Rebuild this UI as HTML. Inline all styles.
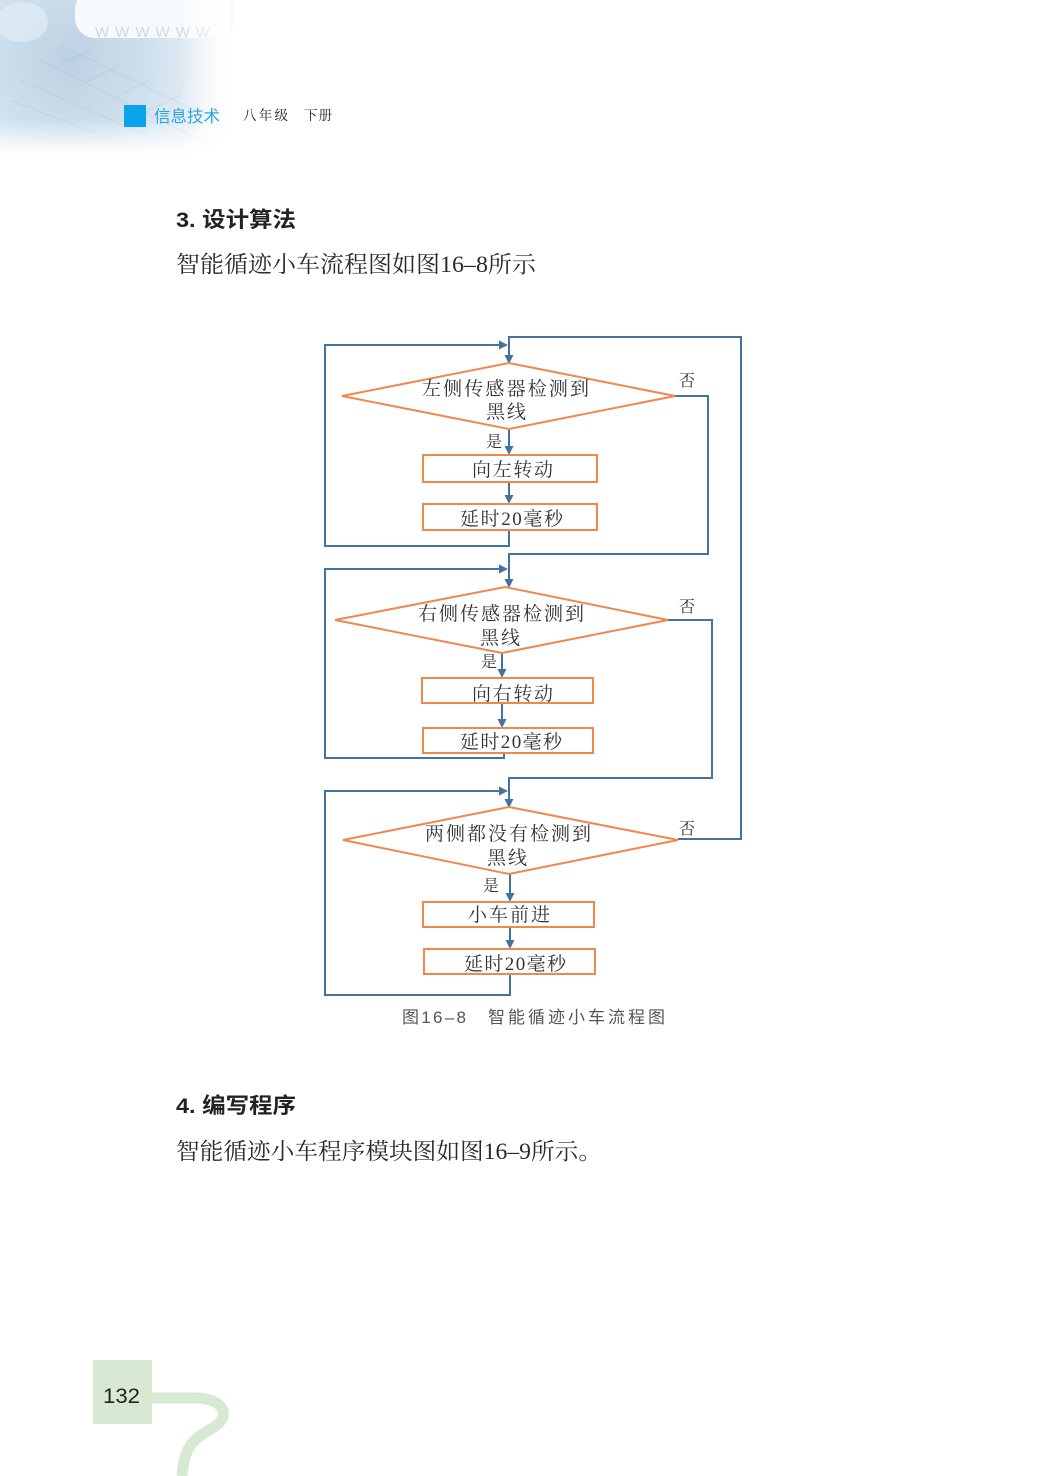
<!DOCTYPE html>
<html><head><meta charset="utf-8"><style>
html,body{margin:0;padding:0;background:#fff;}
svg{display:block;}
</style></head><body>
<svg width="1047" height="1476" viewBox="0 0 1047 1476" xmlns="http://www.w3.org/2000/svg">
<defs>
<radialGradient id="hg" cx="70" cy="60" r="190" gradientUnits="userSpaceOnUse">
<stop offset="0" stop-color="#bcd1e3"/>
<stop offset="0.45" stop-color="#d0e1ee"/>
<stop offset="0.8" stop-color="#eef4f9"/>
<stop offset="1" stop-color="#ffffff"/>
</radialGradient>
<linearGradient id="fadeR" x1="0" y1="0" x2="1" y2="0">
<stop offset="0" stop-color="#fff" stop-opacity="0"/>
<stop offset="1" stop-color="#fff" stop-opacity="1"/>
</linearGradient>
<linearGradient id="fadeB" x1="0" y1="0" x2="0" y2="1">
<stop offset="0" stop-color="#fff" stop-opacity="0"/>
<stop offset="1" stop-color="#fff" stop-opacity="1"/>
</linearGradient>
</defs>

<!-- header background -->
<rect x="0" y="0" width="230" height="155" fill="url(#hg)"/>
<g opacity="0.18" stroke="#8aa9c8" stroke-width="1" fill="none">
<path d="M40 60 L200 140 M20 80 L180 150 M60 45 L215 120 M10 100 L150 155"/>
<path d="M50 70 L90 50 M80 85 L120 65 M110 100 L150 80 M140 115 L180 95"/>
</g>
<ellipse cx="22" cy="22" rx="26" ry="20" fill="#e2ecf5" opacity="0.7"/>
<rect x="75" y="-10" width="160" height="48" rx="20" fill="#f7fafd"/>
<text x="95" y="37" font-family="Liberation Sans, sans-serif" font-size="15" fill="#cfd8e1" textLength="115" lengthAdjust="spacing">WWWWWW</text>
<rect x="180" y="0" width="50" height="155" fill="url(#fadeR)"/>
<rect x="0" y="120" width="230" height="35" fill="url(#fadeB)"/>

<rect x="124" y="105" width="22" height="22" fill="#0aa3ea"/>
<text x="154" y="122" font-family="Liberation Sans, Noto Sans CJK SC, sans-serif" font-size="16.5" fill="#2aa5e0" textLength="66" lengthAdjust="spacing">信息技术</text>
<text x="243" y="120" font-family="Liberation Serif, Noto Serif CJK SC, serif" font-size="13.5" fill="#222" textLength="45" lengthAdjust="spacing">八年级</text>
<text x="304" y="120" font-family="Liberation Serif, Noto Serif CJK SC, serif" font-size="13.5" fill="#222" textLength="28" lengthAdjust="spacing">下册</text>

<!-- headings -->
<text x="176" y="227" font-family="Liberation Sans, Noto Sans CJK SC, sans-serif" font-size="21.5" font-weight="bold" fill="#222" textLength="120" lengthAdjust="spacingAndGlyphs">3. 设计算法</text>
<text x="176" y="272" font-family="Liberation Serif, Noto Serif CJK SC, serif" font-size="23" fill="#2a2a2a" textLength="360" lengthAdjust="spacingAndGlyphs">智能循迹小车流程图如图16–8所示</text>

<text x="176" y="1113" font-family="Liberation Sans, Noto Sans CJK SC, sans-serif" font-size="21.5" font-weight="bold" fill="#222" textLength="120" lengthAdjust="spacingAndGlyphs">4. 编写程序</text>
<text x="176" y="1159" font-family="Liberation Serif, Noto Serif CJK SC, serif" font-size="23" fill="#2a2a2a" textLength="426" lengthAdjust="spacingAndGlyphs">智能循迹小车程序模块图如图16–9所示。</text>

<!-- flowchart connectors -->
<g stroke="#43739f" stroke-width="2" fill="none" stroke-linejoin="miter">
<polyline points="678,839 741,839 741,337 509,337 509,356"/>
<polyline points="509,530 509,546 325,546 325,345 500,345"/>
<polyline points="675,396 708,396 708,554 509,554 509,580"/>
<line x1="509" y1="429" x2="509" y2="447"/>
<line x1="509" y1="482" x2="509" y2="496"/>
<polyline points="504,753 504,758 325,758 325,569 500,569"/>
<polyline points="668,620 712,620 712,778 509,778 509,800"/>
<line x1="502" y1="653" x2="502" y2="670"/>
<line x1="502" y1="703" x2="502" y2="720"/>
<polyline points="510,974 510,995 325,995 325,791 500,791"/>
<line x1="510" y1="874" x2="510" y2="894"/>
<line x1="510" y1="927" x2="510" y2="941"/>
</g>
<g fill="#43739f">
<polygon points="504.5,355 513.5,355 509,364"/>
<polygon points="499,340.5 499,349.5 508,345"/>
<polygon points="504.5,446 513.5,446 509,455"/>
<polygon points="504.5,495 513.5,495 509,504"/>
<polygon points="504.5,579 513.5,579 509,588"/>
<polygon points="499,564.5 499,573.5 508,569"/>
<polygon points="497.5,669 506.5,669 502,678"/>
<polygon points="497.5,719 506.5,719 502,728"/>
<polygon points="504.5,799 513.5,799 509,808"/>
<polygon points="499,786.5 499,795.5 508,791"/>
<polygon points="505.5,893 514.5,893 510,902"/>
<polygon points="505.5,940 514.5,940 510,949"/>
</g>

<!-- shapes -->
<g stroke="#f0884c" stroke-width="2" fill="none">
<polygon points="509,363 675,396 509,429 342,396"/>
<rect x="423" y="455" width="174" height="27"/>
<rect x="423" y="504" width="174" height="26"/>
<polygon points="505,587 668,620 502,653 335,620"/>
<rect x="422" y="678" width="171" height="25"/>
<rect x="423" y="728" width="170" height="25"/>
<polygon points="509,807 678,840 509,874 343,840"/>
<rect x="423" y="902" width="171" height="25"/>
<rect x="424" y="949" width="171" height="25"/>
</g>

<!-- labels -->
<g font-family="Liberation Serif, Noto Serif CJK SC, serif" fill="#333">
<text x="422" y="395" font-size="19" textLength="167" lengthAdjust="spacing">左侧传感器检测到</text>
<text x="486" y="418" font-size="19" textLength="40" lengthAdjust="spacing">黑线</text>
<text x="486" y="447" font-size="16">是</text>
<text x="679" y="386" font-size="16">否</text>
<text x="472" y="476" font-size="19" textLength="81" lengthAdjust="spacing">向左转动</text>
<text x="460" y="525" font-size="19" textLength="103" lengthAdjust="spacing">延时20毫秒</text>

<text x="418" y="620" font-size="19" textLength="166" lengthAdjust="spacing">右侧传感器检测到</text>
<text x="480" y="644" font-size="19" textLength="40" lengthAdjust="spacing">黑线</text>
<text x="481" y="667" font-size="16">是</text>
<text x="679" y="612" font-size="16">否</text>
<text x="472" y="700" font-size="19" textLength="81" lengthAdjust="spacing">向右转动</text>
<text x="460" y="748" font-size="19" textLength="102" lengthAdjust="spacing">延时20毫秒</text>

<text x="425" y="840" font-size="19" textLength="166" lengthAdjust="spacing">两侧都没有检测到</text>
<text x="487" y="864" font-size="19" textLength="40" lengthAdjust="spacing">黑线</text>
<text x="483" y="891" font-size="16">是</text>
<text x="679" y="834" font-size="16">否</text>
<text x="468" y="921" font-size="19" textLength="82" lengthAdjust="spacing">小车前进</text>
<text x="464" y="970" font-size="19" textLength="102" lengthAdjust="spacing">延时20毫秒</text>
</g>
<text x="402" y="1023" font-family="Liberation Sans, Noto Sans CJK SC, sans-serif" font-size="17" fill="#555" textLength="64" lengthAdjust="spacing">图16–8</text>
<text x="488" y="1023" font-family="Liberation Sans, Noto Sans CJK SC, sans-serif" font-size="17" fill="#555" textLength="177" lengthAdjust="spacing">智能循迹小车流程图</text>

<!-- page number -->
<path d="M148,1398 L198,1398 C228,1400 230,1419 211,1429 C193,1439 184,1447 182,1476" stroke="#d8e9d3" stroke-width="11" fill="none"/>
<rect x="93" y="1360" width="59" height="64" fill="#d8e9d3"/>
<text x="103" y="1403" font-family="Liberation Sans, sans-serif" font-size="21" fill="#222" textLength="37" lengthAdjust="spacingAndGlyphs">132</text>
</svg>
</body></html>
